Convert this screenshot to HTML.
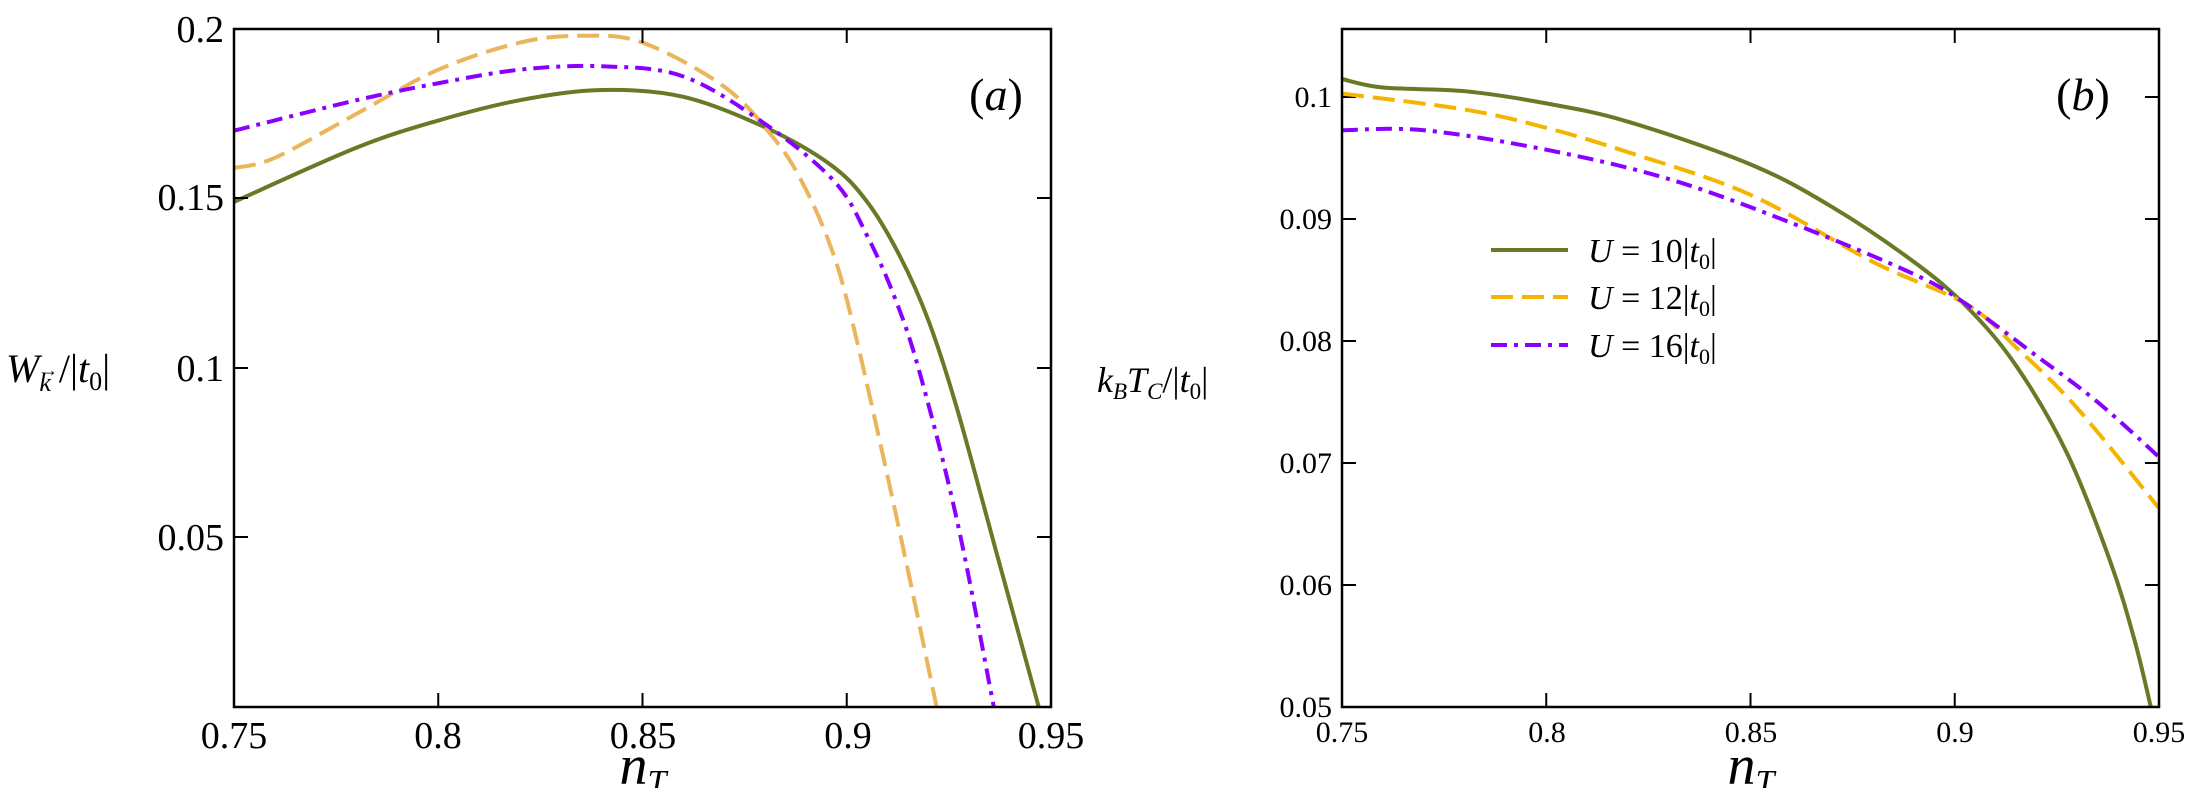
<!DOCTYPE html>
<html><head><meta charset="utf-8"><style>
html,body{margin:0;padding:0;background:#fff;}
svg{display:block;}
text{font-family:"Liberation Serif",serif;fill:#000;}
</style></head><body>
<svg id="s" width="2199" height="788" viewBox="0 0 2199 788" xmlns="http://www.w3.org/2000/svg">
<g id="ga"></g><g id="gb"></g>
<rect x="234" y="29" width="817" height="678" fill="none" stroke="#000" stroke-width="2.5"/>
<rect x="1342" y="29" width="817" height="678" fill="none" stroke="#000" stroke-width="2.5"/>
<g font-size="38" text-anchor="middle">
<text x="234" y="748">0.75</text><text x="438" y="748">0.8</text><text x="643" y="748">0.85</text><text x="848" y="748">0.9</text><text x="1051" y="748">0.95</text>
</g>
<g font-size="38" text-anchor="end">
<text x="224" y="42">0.2</text><text x="224" y="210">0.15</text><text x="224" y="381">0.1</text><text x="224" y="550">0.05</text>
</g>
<g font-size="30" text-anchor="middle">
<text x="1342" y="742">0.75</text><text x="1547" y="742">0.8</text><text x="1751" y="742">0.85</text><text x="1955" y="742">0.9</text><text x="2159" y="742">0.95</text>
</g>
<g font-size="30" text-anchor="end">
<text x="1332" y="717">0.05</text><text x="1332" y="595">0.06</text><text x="1332" y="473">0.07</text><text x="1332" y="351">0.08</text><text x="1332" y="229">0.09</text><text x="1332" y="107">0.1</text>
</g>
<text x="643" y="784" font-size="56" font-style="italic" text-anchor="middle">n<tspan font-size="34" dy="9">T</tspan></text>
<text x="1751" y="784" font-size="56" font-style="italic" text-anchor="middle">n<tspan font-size="34" dy="9">T</tspan></text>
<text x="6" y="382" font-size="40"><tspan font-style="italic">W</tspan><tspan font-size="26" font-style="italic" dy="9">k</tspan><tspan dy="-9" dx="8">/|</tspan><tspan font-style="italic">t</tspan><tspan font-size="26" dy="8">0</tspan><tspan dy="-8">|</tspan></text>
<text x="40" y="376" font-size="18">→</text>
<text x="1097" y="392" font-size="36"><tspan font-style="italic">k</tspan><tspan font-size="23" font-style="italic" dy="7">B</tspan><tspan font-style="italic" dy="-7">T</tspan><tspan font-size="23" font-style="italic" dy="7">C</tspan><tspan dy="-7">/|</tspan><tspan font-style="italic">t</tspan><tspan font-size="23" dy="7">0</tspan><tspan dy="-7">|</tspan></text>
<text x="996" y="110" font-size="46" text-anchor="middle">(<tspan font-style="italic">a</tspan>)</text>
<text x="2083" y="110" font-size="46" text-anchor="middle">(<tspan font-style="italic">b</tspan>)</text>
<line x1="1491" y1="250" x2="1568" y2="250" stroke="#677a25" stroke-width="4"/>
<line x1="1491" y1="297" x2="1568" y2="297" stroke="#f5b400" stroke-width="4" stroke-dasharray="22,9"/>
<line x1="1491" y1="345" x2="1568" y2="345" stroke="#8a00ff" stroke-width="4" stroke-dasharray="16,7,4,7"/>
<g font-size="34">
<text x="1588" y="262"><tspan font-style="italic">U</tspan> = 10|<tspan font-style="italic">t</tspan><tspan font-size="22" dy="7">0</tspan><tspan dy="-7">|</tspan></text>
<text x="1588" y="309"><tspan font-style="italic">U</tspan> = 12|<tspan font-style="italic">t</tspan><tspan font-size="22" dy="7">0</tspan><tspan dy="-7">|</tspan></text>
<text x="1588" y="357"><tspan font-style="italic">U</tspan> = 16|<tspan font-style="italic">t</tspan><tspan font-size="22" dy="7">0</tspan><tspan dy="-7">|</tspan></text>
</g>
</svg>
<script>
var NS="http://www.w3.org/2000/svg";
function add(g,tag,attrs){var e=document.createElementNS(NS,tag);for(var k in attrs)e.setAttribute(k,attrs[k]);g.appendChild(e);}
function path(pts){var d="M"+pts[0][0]+","+pts[0][1];for(var i=0;i<pts.length-1;i++){var p0=pts[i-1]||pts[i],p1=pts[i],p2=pts[i+1],p3=pts[i+2]||p2;
d+=" C"+(p1[0]+(p2[0]-p0[0])/6)+","+(p1[1]+(p2[1]-p0[1])/6)+" "+(p2[0]-(p3[0]-p1[0])/6)+","+(p2[1]-(p3[1]-p1[1])/6)+" "+p2[0]+","+p2[1];}return d;}
function ax(L,y0,y1){return function(p){return [L+(p[0]-0.75)/0.2*817, 707-(p[1]-y0)/(y1-y0)*678];};}
var A=ax(234,0,0.2), B=ax(1342,0.05,0.1056);
var ga=document.getElementById("ga"), gb=document.getElementById("gb");
var G="#677a25",O1="#ebb55c",O2="#f5b400",P="#8a00ff";
var da={g:[[0.75,0.149],[0.78,0.165],[0.80,0.173],[0.82,0.179],[0.84,0.182],[0.86,0.180],[0.88,0.171],[0.896,0.160],[0.905,0.149],[0.913,0.133],[0.920,0.114],[0.927,0.088],[0.937,0.044],[0.947,0]],
o:[[0.75,0.159],[0.76,0.162],[0.78,0.175],[0.80,0.188],[0.82,0.196],[0.835,0.198],[0.85,0.196],[0.87,0.183],[0.882,0.168],[0.889,0.155],[0.896,0.136],[0.9015,0.113],[0.912,0.057],[0.922,0]],
p:[[0.75,0.170],[0.78,0.179],[0.80,0.184],[0.82,0.188],[0.84,0.189],[0.86,0.186],[0.88,0.172],[0.897,0.155],[0.905,0.139],[0.912,0.12],[0.918,0.098],[0.927,0.055],[0.936,0]]};
var db={g:[[0.75,0.1015],[0.76,0.1008],[0.78,0.1005],[0.80,0.0995],[0.82,0.098],[0.85,0.0945],[0.87,0.091],[0.89,0.0865],[0.903,0.0828],[0.915,0.078],[0.9275,0.0708],[0.938,0.062],[0.944,0.0555],[0.948,0.05]],
o:[[0.75,0.1003],[0.78,0.099],[0.80,0.0975],[0.82,0.0955],[0.85,0.092],[0.88,0.0865],[0.903,0.083],[0.915,0.0795],[0.93,0.0745],[0.95,0.0663]],
p:[[0.75,0.0973],[0.77,0.0973],[0.80,0.0957],[0.83,0.0933],[0.86,0.0897],[0.89,0.0855],[0.903,0.083],[0.92,0.0788],[0.935,0.075],[0.95,0.0705]]};
function draw(g,f,d,oc){
add(g,"path",{d:path(d.g.map(f)),fill:"none",stroke:G,"stroke-width":4});
add(g,"path",{d:path(d.o.map(f)),fill:"none",stroke:oc,"stroke-width":4,"stroke-dasharray":"22,9"});
add(g,"path",{d:path(d.p.map(f)),fill:"none",stroke:P,"stroke-width":4,"stroke-dasharray":"16,7,4,7"});}
draw(ga,A,da,O1);draw(gb,B,db,O2);
function ticks(L,xs,ys){xs.forEach(function(x){var px=L+(x-0.75)/0.2*817;add(ga,"line",{x1:px,y1:707,x2:px,y2:693,stroke:"#000","stroke-width":2});add(ga,"line",{x1:px,y1:29,x2:px,y2:43,stroke:"#000","stroke-width":2});});
ys.forEach(function(py){add(ga,"line",{x1:L,y1:py,x2:L+14,y2:py,stroke:"#000","stroke-width":2});add(ga,"line",{x1:L+817,y1:py,x2:L+803,y2:py,stroke:"#000","stroke-width":2});});}
ticks(234,[0.8,0.85,0.9],[198,368,537]);
ticks(1342,[0.8,0.85,0.9],[585,463,341,219,97]);
</script>
</body></html>
